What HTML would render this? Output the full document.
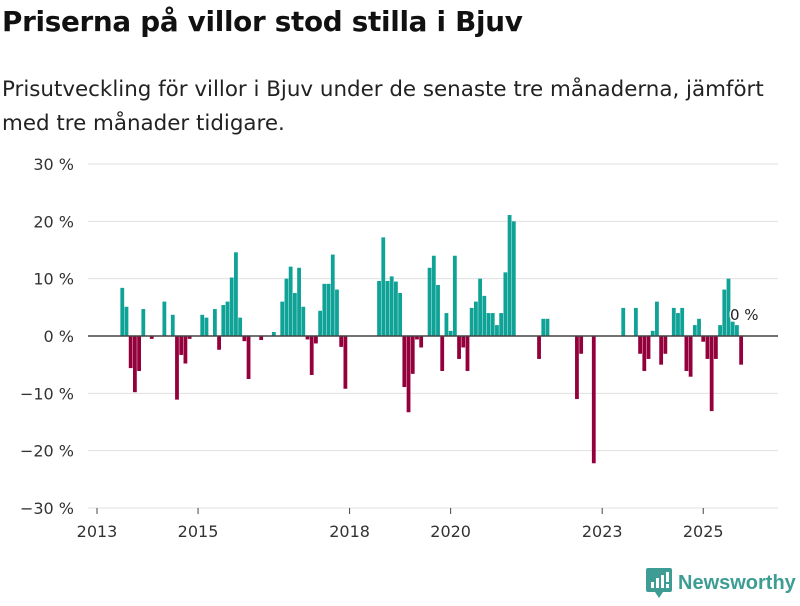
<!DOCTYPE html>
<html><head><meta charset="utf-8">
<style>
body{margin:0;background:#fff;width:800px;height:600px;overflow:hidden;font-family:"DejaVu Sans","Liberation Sans",sans-serif;}
#title{position:absolute;left:2px;top:5px;font-size:27.8px;font-weight:bold;color:#111;margin:0;letter-spacing:-0.3px}
#sub{position:absolute;left:2px;top:73px;font-size:21.4px;line-height:34px;color:#222;width:798px;margin:0;white-space:nowrap}
svg{position:absolute;left:0;top:0}
</style></head><body>
<h1 id="title">Priserna på villor stod stilla i Bjuv</h1>
<p id="sub">Prisutveckling för villor i Bjuv under de senaste tre månaderna, jämfört<br>med tre månader tidigare.</p>
<svg id="chart" width="800" height="600"></svg>
<script>
// month index from Jan 2013 -> percent change
const monthIdx=[6,7,8,9,10,11,13,16,18,19,20,21,22,25,26,28,29,30,31,32,33,34,35,36,39,42,44,45,46,47,48,49,50,51,52,53,54,55,56,57,58,59,67,68,69,70,71,72,73,74,75,76,77,79,80,81,82,83,84,85,86,87,88,89,90,91,92,93,94,95,96,97,98,99,105,106,107,114,115,118,125,128,129,130,131,132,133,134,135,137,138,139,140,141,142,143,144,145,146,147,148,149,150,151,152,153];
const values=[8.4,5.1,-5.6,-9.8,-6.1,4.7,-0.5,6.0,3.7,-11.1,-3.3,-4.8,-0.5,3.7,3.2,4.7,-2.4,5.4,6.0,10.2,14.6,3.2,-0.9,-7.5,-0.7,0.7,6.0,10.0,12.1,7.5,11.9,5.1,-0.6,-6.8,-1.3,4.4,9.1,9.1,14.2,8.1,-1.9,-9.2,9.6,17.2,9.6,10.4,9.5,7.5,-8.9,-13.3,-6.6,-0.6,-2.0,11.9,14.0,8.9,-6.1,4.0,0.9,14.0,-4.0,-2.0,-6.1,4.9,6.0,10.0,7.0,4.0,4.0,1.9,4.0,11.1,21.1,20.0,-4.0,3.0,3.0,-11.0,-3.1,-22.2,4.9,4.9,-3.1,-6.1,-4.0,0.9,6.0,-5.0,-3.1,4.9,4.0,4.9,-6.1,-7.1,1.9,3.0,-1.0,-4.0,-13.1,-4.0,1.9,8.1,10.0,2.5,1.9,-5.0];
const yTicks=[30,20,10,0,-10,-20,-30];
const yTickLabels=["30 %","20 %","10 %","0 %","−10 %","−20 %","−30 %"];
const xTickYears=[2013,2015,2018,2020,2023,2025];
const lastLabel="0 %";

const NS="http://www.w3.org/2000/svg";
const svg=document.getElementById('chart');
const y=v=>336-v*5.733;
const x=m=>97+m*4.21;
function mk(t,a){const e=document.createElementNS(NS,t);for(const k in a)e.setAttribute(k,a[k]);svg.appendChild(e);return e;}
yTicks.forEach((t,i)=>{
  if(t!==0){const g=mk('line',{x1:88,x2:778,y1:y(t),y2:y(t),stroke:'#e0e0e0','stroke-width':1});
  
  }
  const l=mk('text',{x:74,y:y(t)+6,'text-anchor':'end','font-size':16,fill:'#333','font-family':'DejaVu Sans, Liberation Sans, sans-serif'});
  l.textContent=yTickLabels[i];
  
  
});
values.forEach((v,i)=>{
  const cx=x(monthIdx[i]);
  const top=v>=0?y(v):y(0);
  const h=Math.abs(y(v)-y(0));
  const r=mk('rect',{x:cx-1.9,y:top,width:3.8,height:h,fill:v>=0?'#0fa296':'#94003c'});
  
  
});
const z=mk('line',{x1:88,x2:778,y1:y(0),y2:y(0),stroke:'#444','stroke-width':1.6});


xTickYears.forEach(yr=>{
  const m=(yr-2013)*12;
  const t=mk('line',{x1:x(m),x2:x(m),y1:508,y2:514,stroke:'#444','stroke-width':1});
  
  
  const l=mk('text',{x:x(m),y:537,'text-anchor':'middle','font-size':16,fill:'#333','font-family':'DejaVu Sans, Liberation Sans, sans-serif'});
  l.textContent=yr;
  
  
});
const ll=mk('text',{x:730,y:320,'font-size':15,fill:'#222','font-family':'DejaVu Sans, Liberation Sans, sans-serif',stroke:'#fff','stroke-width':3,'paint-order':'stroke'});
ll.textContent=lastLabel;


</script>
<svg width="160" height="40" style="left:643px;top:566px">
<path d="M5 2h22a2 2 0 0 1 2 2v20a2 2 0 0 1-2 2h-7l-4 6-4-6H5a2 2 0 0 1-2-2V4a2 2 0 0 1 2-2z" fill="#3d9d94"/>
<rect x="8" y="16" width="3" height="6" fill="#fff"/><rect x="13" y="12" width="3" height="10" fill="#fff"/><rect x="18" y="9" width="3" height="13" fill="#fff"/><rect x="23" y="6" width="3" height="10" fill="#fff"/><rect x="23" y="18" width="3" height="4" fill="#fff"/>
<text x="35" y="23" font-size="20" font-weight="bold" fill="#3d9d94" font-family="Liberation Sans, sans-serif">Newsworthy</text>
</svg>
</body></html>
